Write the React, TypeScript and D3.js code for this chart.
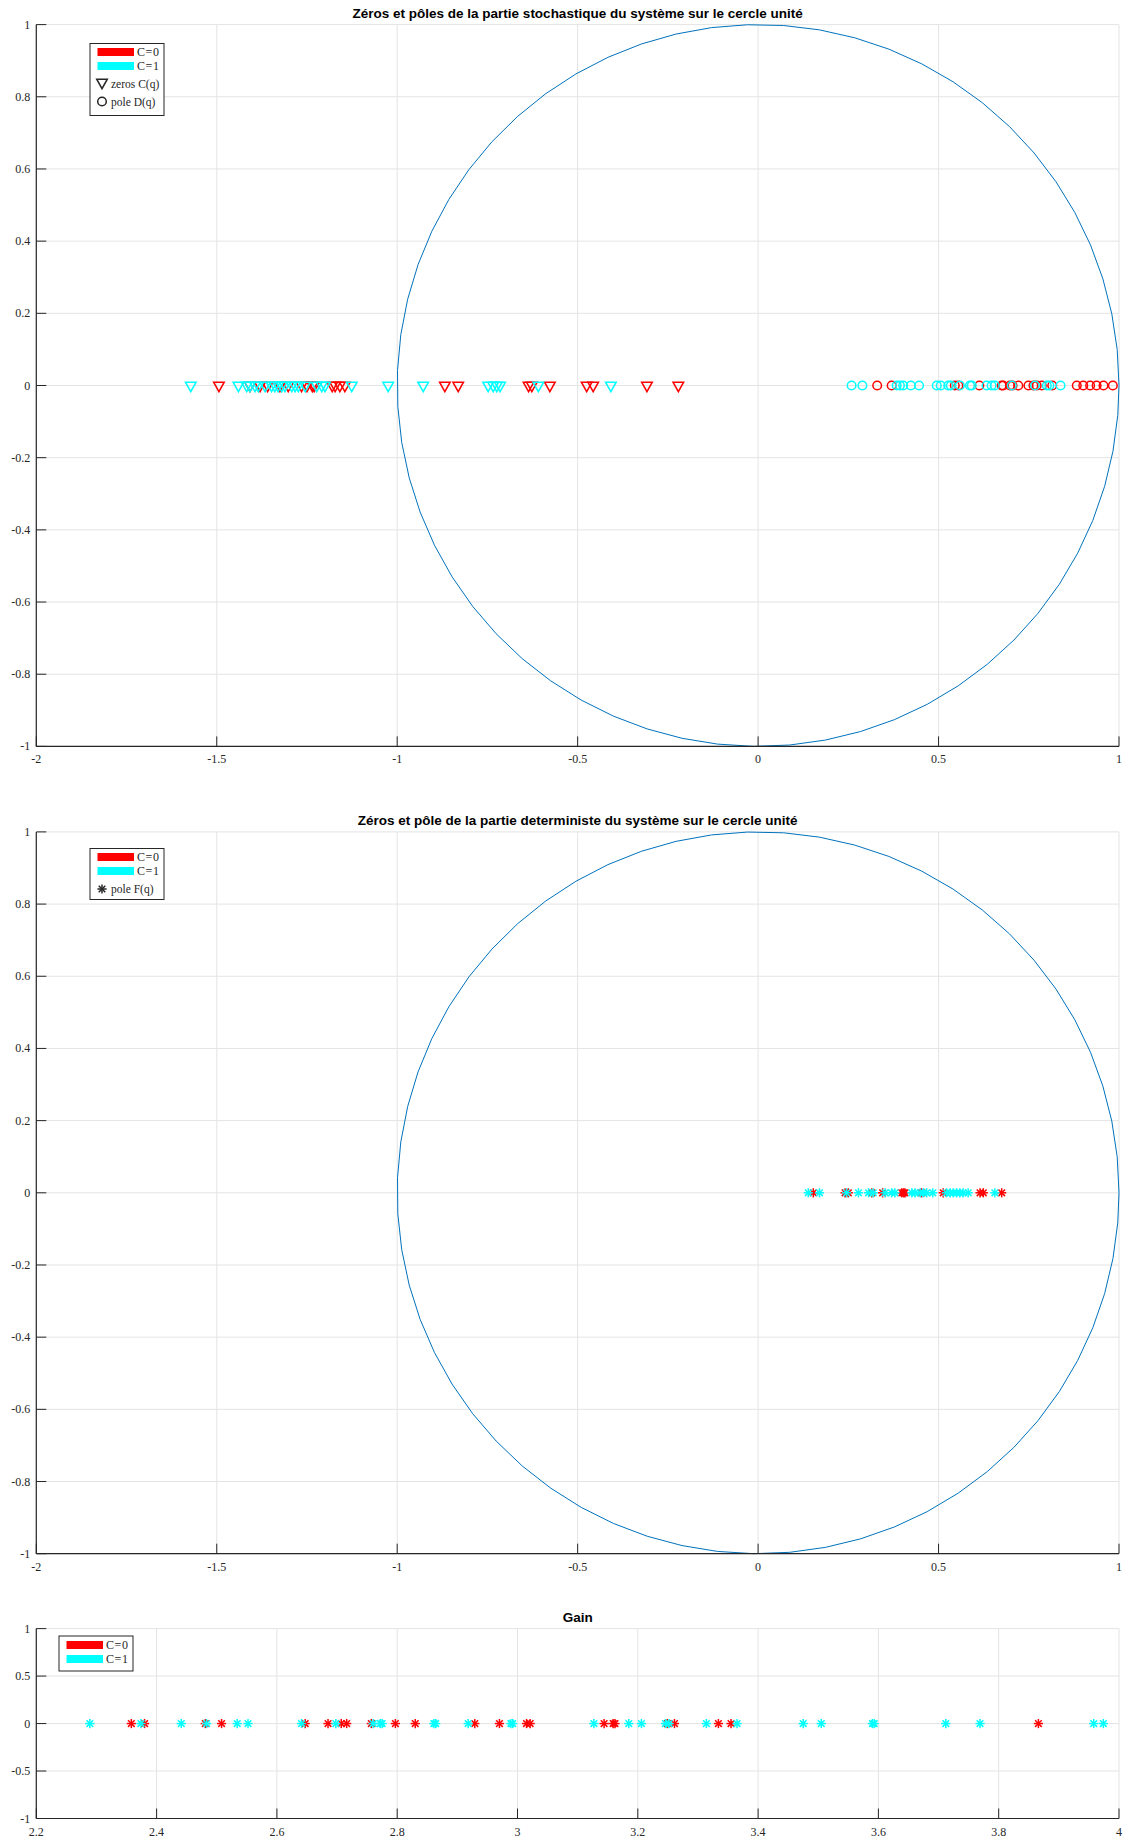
import React from "react";
import * as d3 from "d3";

// ---------- data ----------
const titles = [
  "Zéros et pôles de la partie stochastique du système sur le cercle unité",
  "Zéros et pôle de la partie deterministe du système sur le cercle unité",
  "Gain",
];

const zTicksX = [-2, -1.5, -1, -0.5, 0, 0.5, 1];
const zTicksY = [-1, -0.8, -0.6, -0.4, -0.2, 0, 0.2, 0.4, 0.6, 0.8, 1];
const gainTicksX = [2.2, 2.4, 2.6, 2.8, 3, 3.2, 3.4, 3.6, 3.8, 4];
const gainTicksY = [-1, -0.5, 0, 0.5, 1];

// zeros of C(q) (stochastic part)
const zerosC0 = [-1.494, -1.408, -1.38, -1.359, -1.325, -1.302, -1.265, -1.25, -1.235, -1.23, -1.18, -1.172, -1.159, -1.145, -0.868, -0.831, -0.636, -0.627, -0.577, -0.475, -0.457, -0.308, -0.221];
const zerosC1 = [-1.572, -1.44, -1.417, -1.408, -1.394, -1.385, -1.366, -1.348, -1.339, -1.33, -1.32, -1.311, -1.292, -1.283, -1.274, -1.255, -1.223, -1.209, -1.2, -1.126, -1.025, -0.928, -0.748, -0.734, -0.724, -0.715, -0.609, -0.408];
// poles of D(q)
const polesDC0 = [0.33, 0.37, 0.545, 0.555, 0.613, 0.675, 0.679, 0.698, 0.705, 0.721, 0.749, 0.763, 0.772, 0.786, 0.815, 0.883, 0.901, 0.92, 0.938, 0.957, 0.983];
const polesDC1 = [0.259, 0.289, 0.384, 0.393, 0.402, 0.423, 0.446, 0.495, 0.506, 0.527, 0.534, 0.559, 0.587, 0.592, 0.633, 0.647, 0.656, 0.703, 0.767, 0.8, 0.807, 0.838];
// poles of F(q) (deterministic part)
const polesFC0 = [0.153, 0.241, 0.25, 0.315, 0.345, 0.398, 0.403, 0.407, 0.453, 0.513, 0.615, 0.624, 0.675];
const polesFC1 = [0.139, 0.17, 0.245, 0.278, 0.306, 0.319, 0.352, 0.37, 0.379, 0.426, 0.435, 0.449, 0.458, 0.467, 0.484, 0.522, 0.532, 0.541, 0.55, 0.559, 0.568, 0.582, 0.656];
// gains
const gainC0 = [2.358, 2.38, 2.481, 2.508, 2.647, 2.685, 2.707, 2.716, 2.757, 2.797, 2.83, 2.929, 2.97, 3.015, 3.021, 3.144, 3.159, 3.162, 3.249, 3.261, 3.334, 3.355, 3.866];
const gainC1 = [2.289, 2.374, 2.441, 2.483, 2.534, 2.552, 2.641, 2.698, 2.76, 2.772, 2.775, 2.861, 2.864, 2.918, 2.989, 2.992, 3.127, 3.185, 3.206, 3.246, 3.252, 3.314, 3.365, 3.475, 3.505, 3.59, 3.593, 3.712, 3.769, 3.958, 3.974];

const legendLabels = ["C=0", "C=1"];

// ---------- style ----------
const RED = "#ff0000";
const CYAN = "#00ffff";
const AX = "#262626";
const GRID = "#e4e4e4";
const BLUE = "#0072bd";
const SERIF = "'Liberation Serif', 'DejaVu Serif', serif";
const SANS = "'Liberation Sans', Arial, sans-serif";

const LEFT = 36.3;
const RIGHT = 1119;

type MarkerKind = "tri" | "circ" | "star";

function Marker({ kind, x, y, color }: { kind: MarkerKind; x: number; y: number; color: string }) {
  if (kind === "tri") {
    const p = `${x - 5.3},${y - 3.3} ${x + 5.3},${y - 3.3} ${x},${y + 6.2}`;
    return <polygon points={p} fill="none" stroke={color} strokeWidth={1.5} strokeLinejoin="miter" />;
  }
  if (kind === "circ") {
    return <circle cx={x} cy={y} r={4.3} fill="none" stroke={color} strokeWidth={1.5} />;
  }
  const r = 4.6;
  const d = r * 0.72;
  return (
    <g stroke={color} strokeWidth={1.5}>
      <line x1={x - r} y1={y} x2={x + r} y2={y} />
      <line x1={x} y1={y - r} x2={x} y2={y + r} />
      <line x1={x - d} y1={y - d} x2={x + d} y2={y + d} />
      <line x1={x - d} y1={y + d} x2={x + d} y2={y - d} />
    </g>
  );
}

type Series = { values: number[]; color: string; kind: MarkerKind };
type LegendRow = { kind: "patch" | MarkerKind; color: string; label: string; cy: number };

function Panel({
  title, top, bottom, xDomain, xTicks, yTicks, series, circle, legend,
}: {
  title: string; top: number; bottom: number; xDomain: [number, number];
  xTicks: number[]; yTicks: number[]; series: Series[]; circle: boolean;
  legend: { x: number; y: number; w: number; h: number; rows: LegendRow[] };
}) {
  const x = d3.scaleLinear().domain(xDomain).range([LEFT, RIGHT]);
  const y = d3.scaleLinear().domain([-1, 1]).range([bottom, top]);
  const fmt = (v: number) => String(+v.toFixed(2));
  const angles = d3.range(0, 2 * Math.PI + 0.0001, 0.1);
  const circlePath = d3.line<number>().x((t) => x(Math.cos(t))).y((t) => y(Math.sin(t)))(angles.concat([0]));
  return (
    <g>
      <text x={(LEFT + RIGHT) / 2} y={top - 7} textAnchor="middle" fontFamily={SANS} fontWeight="bold" fontSize={13.5} fill="#000">{title}</text>
      {/* grid */}
      {xTicks.map((t) => (
        <line key={"gx" + t} x1={x(t)} x2={x(t)} y1={top} y2={bottom} stroke={GRID} strokeWidth={1} />
      ))}
      {yTicks.map((t) => (
        <line key={"gy" + t} x1={LEFT} x2={RIGHT} y1={y(t)} y2={y(t)} stroke={GRID} strokeWidth={1} />
      ))}
      {circle && <path d={circlePath || ""} fill="none" stroke={BLUE} strokeWidth={1} />}
      {series.map((s, si) => (
        <g key={si}>
          {s.values.map((v, i) => (
            <Marker key={i} kind={s.kind} x={x(v)} y={y(0)} color={s.color} />
          ))}
        </g>
      ))}
      {/* axes */}
      <line x1={LEFT} x2={LEFT} y1={top} y2={bottom} stroke={AX} strokeWidth={1.2} />
      <line x1={LEFT} x2={RIGHT} y1={bottom} y2={bottom} stroke={AX} strokeWidth={1.2} />
      {xTicks.map((t) => (
        <g key={"tx" + t}>
          <line x1={x(t)} x2={x(t)} y1={bottom} y2={bottom - 10} stroke={AX} strokeWidth={1} />
          <text x={x(t)} y={bottom + 17} textAnchor="middle" fontFamily={SERIF} fontSize={12} fill={AX}>{fmt(t)}</text>
        </g>
      ))}
      {yTicks.map((t) => (
        <g key={"ty" + t}>
          <line x1={LEFT} x2={LEFT + 10} y1={y(t)} y2={y(t)} stroke={AX} strokeWidth={1} />
          <text x={LEFT - 6} y={y(t) + 4} textAnchor="end" fontFamily={SERIF} fontSize={12} fill={AX}>{fmt(t)}</text>
        </g>
      ))}
      {/* legend */}
      <rect x={legend.x} y={legend.y} width={legend.w} height={legend.h} fill="#fff" stroke={AX} strokeWidth={1} />
      {legend.rows.map((r, i) => {
        const cy = r.cy;
        if (r.kind === "patch") {
          return (
            <g key={i}>
              <rect x={legend.x + 7.5} y={cy - 4} width={36.5} height={8} fill={r.color} />
              <text x={legend.x + 47} y={cy + 4.2} fontFamily={SERIF} fontSize={12} letterSpacing={0.6} fill={AX}>{r.label}</text>
            </g>
          );
        }
        return (
          <g key={i}>
            <Marker kind={r.kind} x={legend.x + 12} y={r.kind === "tri" ? cy - 1.5 : cy} color={AX} />
            <text x={legend.x + 21} y={cy + 4} fontFamily={SERIF} fontSize={11.5} fill={AX}>{r.label}</text>
          </g>
        );
      })}
    </g>
  );
}

export default function App() {
  return (
    <div style={{ position: "absolute", left: 0, top: 0, background: "#fff" }}>
      <svg width={1126} height={1838} style={{ display: "block" }}>
        <rect width={1126} height={1838} fill="#fff" />
        <Panel
          title={titles[0]}
          top={24.6}
          bottom={746.4}
          xDomain={[-2, 1]}
          xTicks={zTicksX}
          yTicks={zTicksY}
          circle
          series={[
            { values: zerosC0, color: RED, kind: "tri" },
            { values: zerosC1, color: CYAN, kind: "tri" },
            { values: polesDC0, color: RED, kind: "circ" },
            { values: polesDC1, color: CYAN, kind: "circ" },
          ]}
          legend={{
            x: 90, y: 43.5, w: 74, h: 72,
            rows: [
              { kind: "patch", color: RED, label: legendLabels[0], cy: 52 },
              { kind: "patch", color: CYAN, label: legendLabels[1], cy: 66 },
              { kind: "tri", color: AX, label: "zeros C(q)", cy: 84 },
              { kind: "circ", color: AX, label: "pole D(q)", cy: 101.5 },
            ],
          }}
        />
        <Panel
          title={titles[1]}
          top={831.9}
          bottom={1553.7}
          xDomain={[-2, 1]}
          xTicks={zTicksX}
          yTicks={zTicksY}
          circle
          series={[
            { values: polesFC0, color: RED, kind: "star" },
            { values: polesFC1, color: CYAN, kind: "star" },
          ]}
          legend={{
            x: 90, y: 848.5, w: 74, h: 51,
            rows: [
              { kind: "patch", color: RED, label: legendLabels[0], cy: 857 },
              { kind: "patch", color: CYAN, label: legendLabels[1], cy: 871 },
              { kind: "star", color: AX, label: "pole F(q)", cy: 889 },
            ],
          }}
        />
        <Panel
          title={titles[2]}
          top={1628.6}
          bottom={1818.5}
          xDomain={[2.2, 4]}
          xTicks={gainTicksX}
          yTicks={gainTicksY}
          circle={false}
          series={[
            { values: gainC0, color: RED, kind: "star" },
            { values: gainC1, color: CYAN, kind: "star" },
          ]}
          legend={{
            x: 59, y: 1636, w: 74, h: 35,
            rows: [
              { kind: "patch", color: RED, label: legendLabels[0], cy: 1645 },
              { kind: "patch", color: CYAN, label: legendLabels[1], cy: 1659 },
            ],
          }}
        />
      </svg>
    </div>
  );
}
